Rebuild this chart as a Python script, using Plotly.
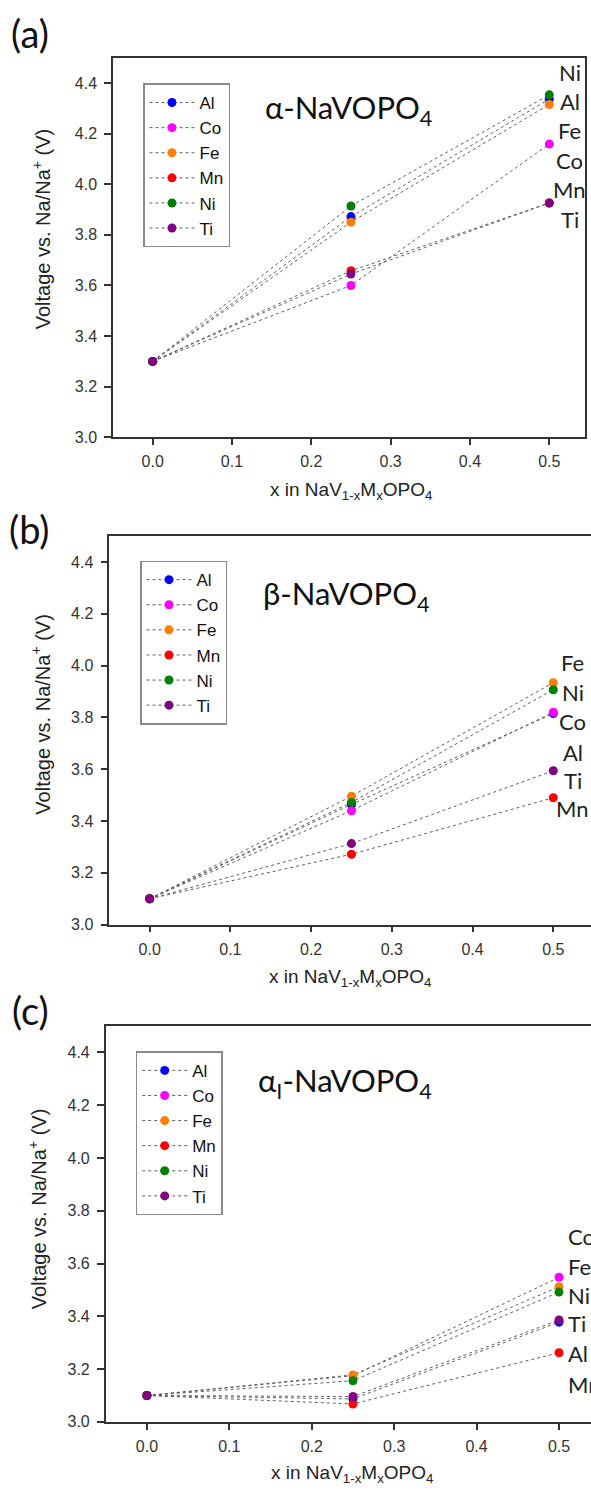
import plotly.graph_objects as go

W, H = 591, 1495
OFF = 0  # page body margin is removed in the written page

# ---------------- data ----------------
x_vals = [0.0, 0.25, 0.5]
metals = ["Al", "Co", "Fe", "Mn", "Ni", "Ti"]
colors = {"Al": "#0000ff", "Co": "#ff00ff", "Fe": "#ff7f00",
          "Mn": "#ff0000", "Ni": "#008000", "Ti": "#800080"}

# (a) alpha-NaVOPO4
a_Al = [3.30, 3.872, 4.336]
a_Co = [3.30, 3.600, 4.159]
a_Fe = [3.30, 3.850, 4.315]
a_Mn = [3.30, 3.658, 3.926]
a_Ni = [3.30, 3.914, 4.353]
a_Ti = [3.30, 3.645, 3.926]

# (b) beta-NaVOPO4
b_Al = [3.10, 3.464, 3.815]
b_Co = [3.10, 3.440, 3.820]
b_Fe = [3.10, 3.496, 3.934]
b_Mn = [3.10, 3.272, 3.490]
b_Ni = [3.10, 3.472, 3.907]
b_Ti = [3.10, 3.313, 3.594]

# (c) alpha_I-NaVOPO4
c_Al = [3.10, 3.087, 3.378]
c_Co = [3.10, 3.175, 3.548]
c_Fe = [3.10, 3.178, 3.512]
c_Mn = [3.10, 3.068, 3.262]
c_Ni = [3.10, 3.156, 3.492]
c_Ti = [3.10, 3.096, 3.386]

panel_a = dict(zip(metals, [a_Al, a_Co, a_Fe, a_Mn, a_Ni, a_Ti]))
panel_b = dict(zip(metals, [b_Al, b_Co, b_Fe, b_Mn, b_Ni, b_Ti]))
panel_c = dict(zip(metals, [c_Al, c_Co, c_Fe, c_Mn, c_Ni, c_Ti]))

# end labels (text, y position in V)
labels_a = [("Ni", 4.443), ("Al", 4.326), ("Fe", 4.212), ("Co", 4.092), ("Mn", 3.978), ("Ti", 3.860)]
labels_b = [("Fe", 4.012), ("Ni", 3.897), ("Co", 3.784), ("Al", 3.666), ("Ti", 3.558), ("Mn", 3.449)]
labels_c = [("Co", 3.701), ("Fe", 3.589), ("Ni", 3.480), ("Ti", 3.371), ("Al", 3.258), ("Mn", 3.141)]

titles = ["α-NaVOPO<sub>4</sub>", "β-NaVOPO<sub>4</sub>", "α<sub>I</sub>-NaVOPO<sub>4</sub>"]
panel_tags = ["(a)", "(b)", "(c)"]
y_ticks = [3.0, 3.2, 3.4, 3.6, 3.8, 4.0, 4.2, 4.4]
x_ticks = [0.0, 0.1, 0.2, 0.3, 0.4, 0.5]
x_title = "x in NaV<sub>1-x</sub>M<sub>x</sub>OPO<sub>4</sub>"
y_title = "Voltage vs. Na/Na<sup>+</sup> (V)"


def px(x):
    return (x - OFF) / W


def py(y):
    return 1 - (y - OFF) / H


# geometry per panel: (left, right, top, bottom) in page pixels, x-range
geom = [
    dict(l=113, r=585, t=58, b=440, xr=[-0.05, 0.545]),
    dict(l=109.3, r=591, t=539.3, b=930.3, xr=[-0.05, 0.5467]),
    dict(l=105.7, r=591, t=1032.3, b=1430.5, xr=[-0.05, 0.5388]),
]

fig = go.Figure()
panels = [panel_a, panel_b, panel_c]
legend_names = ["legend", "legend2", "legend3"]
for i, pdata in enumerate(panels):
    sfx = "" if i == 0 else str(i + 1)
    for m in metals:
        fig.add_trace(go.Scatter(
            x=x_vals, y=pdata[m], name=m, mode="lines+markers",
            line=dict(color="#606060", width=1, dash="dot"),
            marker=dict(color=colors[m], size=9),
            xaxis="x" + sfx, yaxis="y" + sfx,
            legend=legend_names[i],
        ))

SANS = "Arial"
CAL = "Lato"
axis_font = dict(family=SANS, size=16, color="#333333")
layout = dict(
    width=W, height=H, margin=dict(l=0, r=0, t=0, b=0),
    paper_bgcolor="white", plot_bgcolor="white", showlegend=True,
)
annotations = []
legend_pos = [(143, 84), (140, 564), (135.7, 1057.7)]
tag_pos = [(9, 33), (7, 532), (10, 1016)]
ytitle_pos = [(41.7, 230), (41, 719), (37.5, 1216)]
xtitle_pos = [(351, 494), (350, 984), (351.5, 1483)]
title_pos = [(348, 110), (346, 599), (345, 1089)]
label_x = [(0.526, "center"), (0.524, "center"), (0.508, "left")]
label_sets = [labels_a, labels_b, labels_c]

for i, g in enumerate(geom):
    sfx = "" if i == 0 else str(i + 1)
    layout["xaxis" + sfx] = dict(
        domain=[px(g["l"]), min(px(g["r"]), 1.0)], range=g["xr"], anchor="y" + sfx,
        tickvals=x_ticks, tickformat=".1f", ticks="outside", ticklen=6,
        tickwidth=1.5, tickcolor="#333333", showline=True, linecolor="#333333",
        linewidth=1.5, mirror=True, showgrid=False, zeroline=False,
        tickfont=axis_font, ticklabelstandoff=3,
    )
    layout["yaxis" + sfx] = dict(
        domain=[py(g["b"]), py(g["t"])], range=[3.0, 4.5], anchor="x" + sfx,
        tickvals=y_ticks, tickformat=".1f", ticks="outside", ticklen=7,
        tickwidth=1.5, tickcolor="#333333", showline=True, linecolor="#333333",
        linewidth=1.5, mirror=(i == 0), showgrid=False, zeroline=False,
        tickfont=axis_font, ticklabelstandoff=4,
    )
    lx, ly = legend_pos[i]
    layout[legend_names[i]] = dict(
        x=px(lx), y=py(ly), xanchor="left", yanchor="top",
        bordercolor="#8a8a8a", borderwidth=1.5, bgcolor="white",
        font=dict(family=SANS, size=17, color="#111111"),
        tracegroupgap=0, itemwidth=45,
    )
    # panel tag
    tx, ty = tag_pos[i]
    annotations.append(dict(text=panel_tags[i], x=px(tx), y=py(ty), xref="paper", yref="paper",
                            xanchor="left", yanchor="middle", showarrow=False,
                            font=dict(family=CAL, size=38, color="#111111")))
    # y title
    yx, yy = ytitle_pos[i]
    annotations.append(dict(text=y_title, x=px(yx), y=py(yy), xref="paper", yref="paper",
                            xanchor="center", yanchor="middle", textangle=-90, showarrow=False,
                            font=dict(family=SANS, size=20, color="#222222")))
    # x title
    xx, xy = xtitle_pos[i]
    annotations.append(dict(text=x_title, x=px(xx), y=py(xy), xref="paper", yref="paper",
                            xanchor="center", yanchor="middle", showarrow=False,
                            font=dict(family=SANS, size=19, color="#222222")))
    # panel title
    tx2, ty2 = title_pos[i]
    annotations.append(dict(text=titles[i], x=px(tx2), y=py(ty2), xref="paper", yref="paper",
                            xanchor="center", yanchor="middle", showarrow=False,
                            font=dict(family=CAL, size=31, color="#111111")))
    # end labels
    lxv, anchor = label_x[i]
    for txt, yv in label_sets[i]:
        annotations.append(dict(text=txt, x=lxv, y=yv, xref="x" + sfx, yref="y" + sfx,
                                xanchor=anchor, yanchor="middle", showarrow=False,
                                font=dict(family=CAL, size=22, color="#222222")))

layout["annotations"] = annotations
fig.update_layout(**layout)
fig.write_html("out.html", config={"displayModeBar": False},
               post_script="document.body.style.margin='0px';document.body.style.overflow='hidden';")
